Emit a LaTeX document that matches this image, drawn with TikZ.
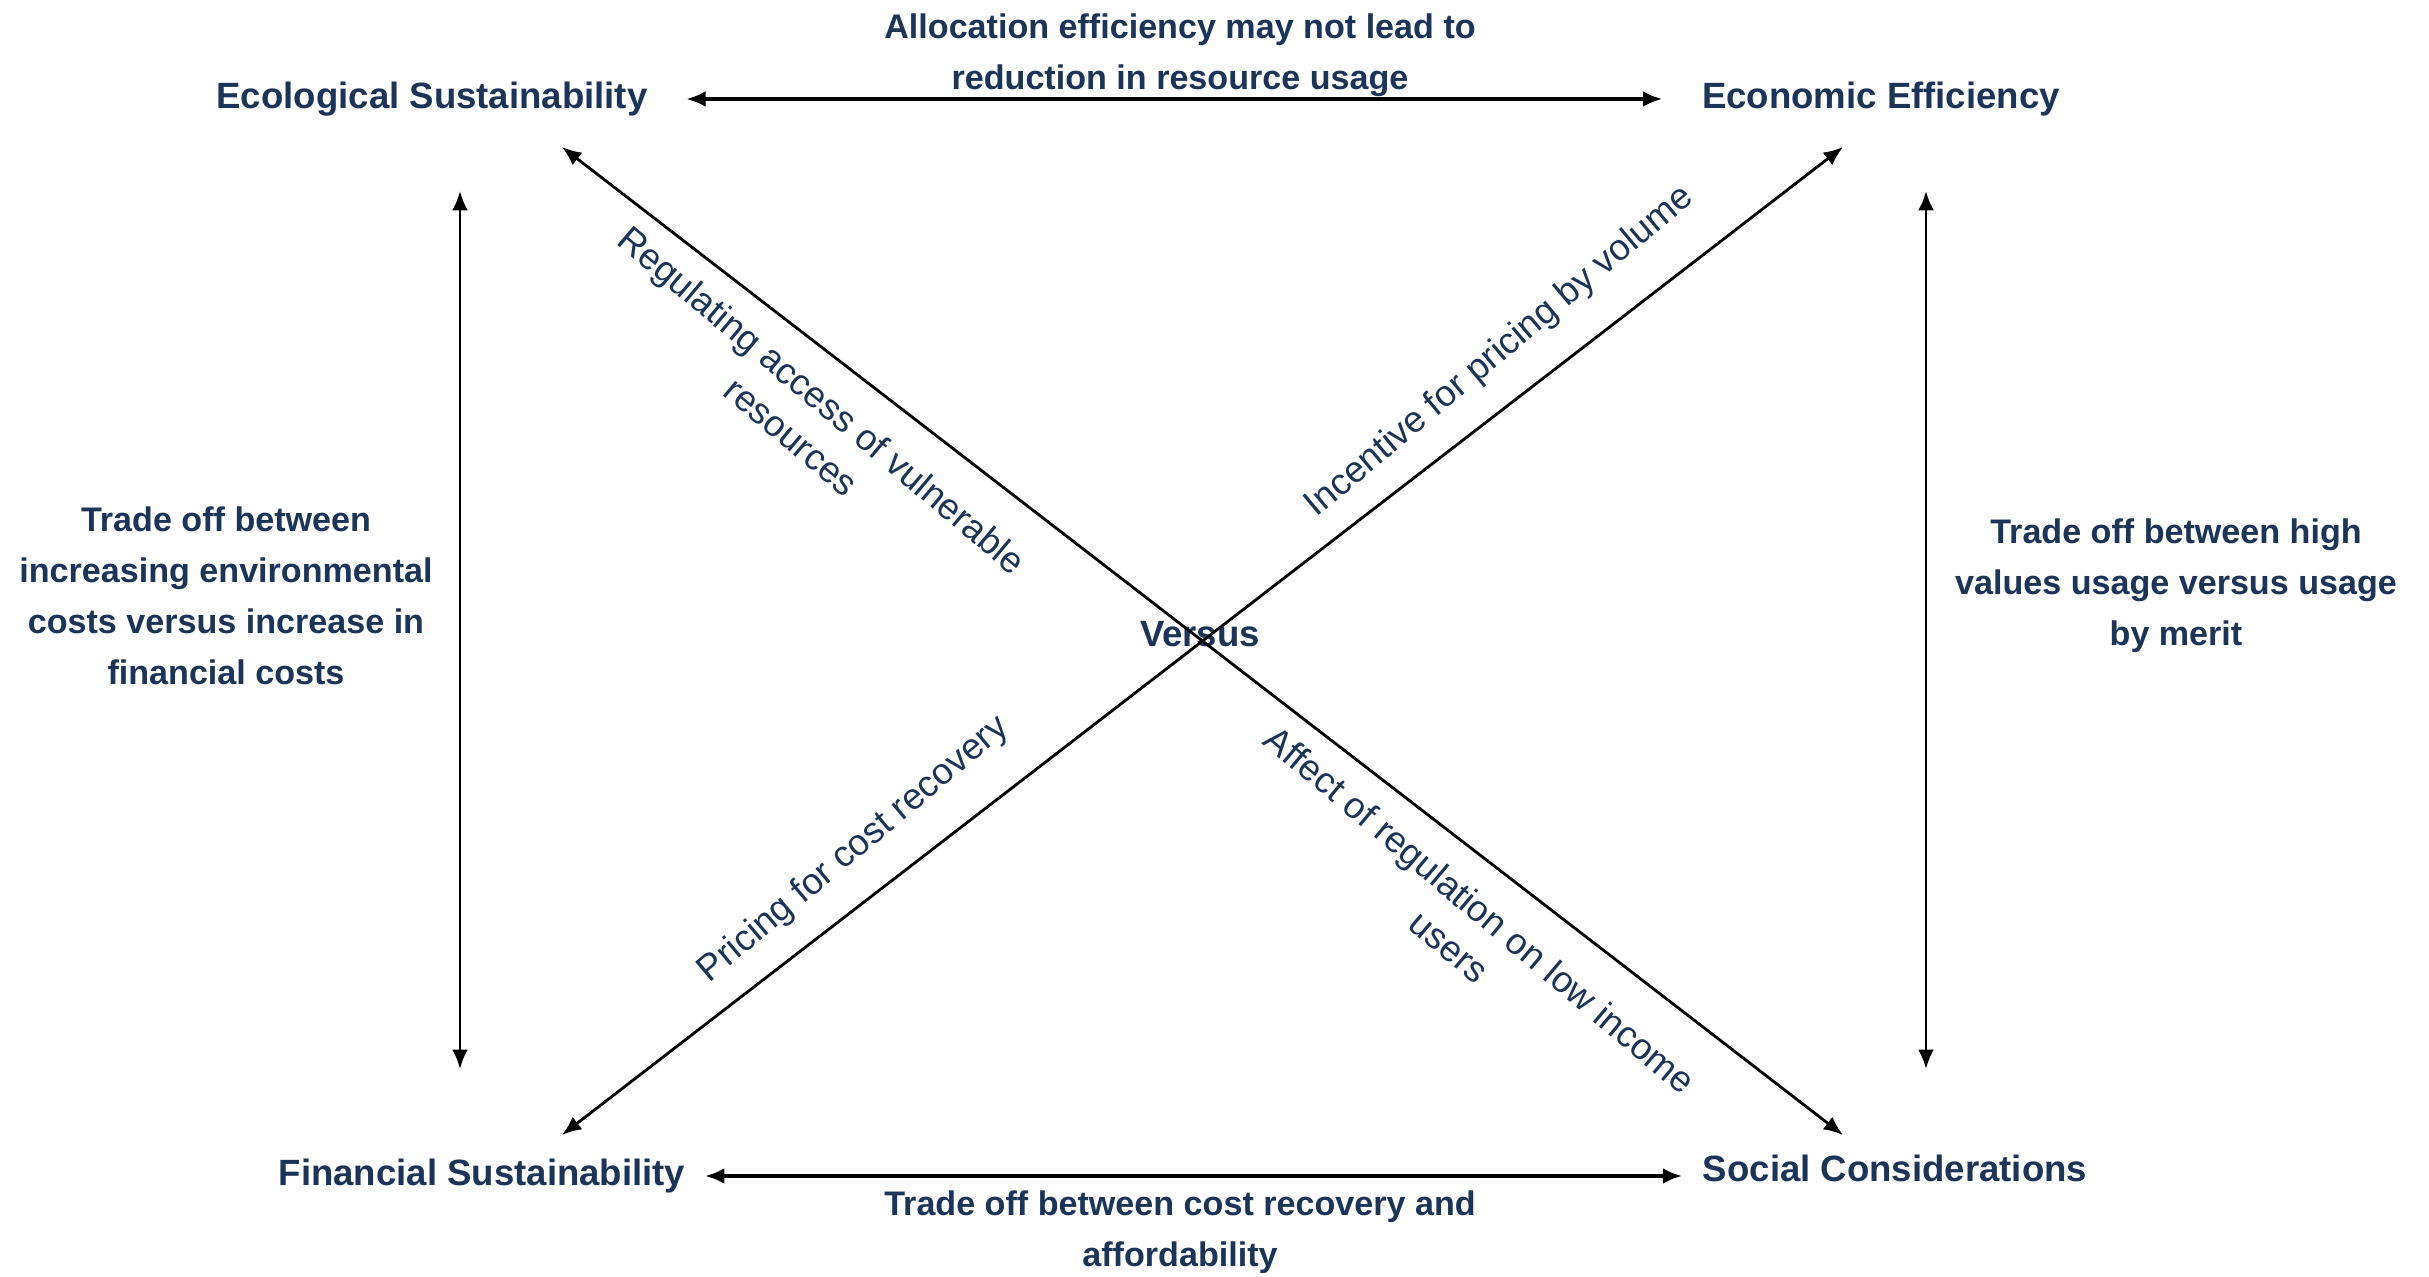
\documentclass[tikz,border=0pt]{standalone}
\usepackage{fontspec}
\setmainfont{Liberation Sans}
\usetikzlibrary{arrows.meta,calc}
\definecolor{navy}{RGB}{28,52,88}
\begin{document}
\begin{tikzpicture}[x=0.01cm,y=-0.01cm,
  lab/.style={text=navy,font=\fontsize{10.4}{13}\selectfont\bfseries,inner sep=0pt},
  elab/.style={text=navy,font=\fontsize{9.7}{14.5}\selectfont\bfseries,align=center,inner sep=0pt},
  dlab/.style={text=navy,font=\fontsize{10.4}{13.6}\selectfont,align=center,inner sep=0pt},
  dbl/.style={{Latex[length=5.5pt,width=4.5pt]}-{Latex[length=5.5pt,width=4.5pt]},line width=0.8pt,draw=black},
  dblthick/.style={dbl,line width=1.2pt}]
\useasboundingbox (0,0) rectangle (2429,1277);
\fill[white] (0,0) rectangle (2429,1277);
% corner nodes
\node[lab] (eco) at (432,99) {Ecological Sustainability};
\node[lab] (econ) at (1881,99) {Economic Efficiency};
\node[lab] (fin) at (482,1176) {Financial Sustainability};
\node[lab] (soc) at (1895,1168) {Social Considerations};
\node[lab] (vs) at (1200,634) {Versus};
% horizontal arrows
\draw[dblthick,shorten <=0.38cm,shorten >=0.39cm] (eco.east) -- (eco.east -| econ.west);
\draw[dblthick,shorten <=0.19cm,shorten >=0.20cm] (fin.east) -- (fin.east -| soc.west);
% vertical arrows
\draw[dbl] ($(eco.center)+(28,92)$) -- ($(fin.center)+(-22,-107)$);
\draw[dbl] ($(econ.center)+(45,92)$) -- ($(soc.center)+(31,-99)$);
% diagonals
\draw[dbl] ($(eco.center)+(130,48)$) -- ($(soc.center)+(-52,-33)$);
\draw[dbl] ($(econ.center)+(-38,48)$) -- ($(fin.center)+(80,-41)$);
% edge labels
\node[elab] (ltop) at (1180,55) {Allocation efficiency may not lead to\\reduction in resource usage};
\node[elab] (lbot) at (1180,1232) {Trade off between cost recovery and\\affordability};
\node[elab] (lleft) at (226,596) {Trade off between\\increasing environmental\\costs versus increase in\\financial costs};
\node[elab] (lright) at (2176,586) {Trade off between high\\values usage versus usage\\by merit};
% diagonal labels
\node[dlab,rotate=-40] (lreg) at (807,418) {Regulating access of vulnerable\\resources};
\node[dlab,rotate=40] (linc) at (1500,352) {Incentive for pricing by volume};
\node[dlab,rotate=40] (lpri) at (854,850) {Pricing for cost recovery};
\node[dlab,rotate=-40] (laff) at (1465,928) {Affect of regulation on low income\\users};
\end{tikzpicture}
\end{document}
